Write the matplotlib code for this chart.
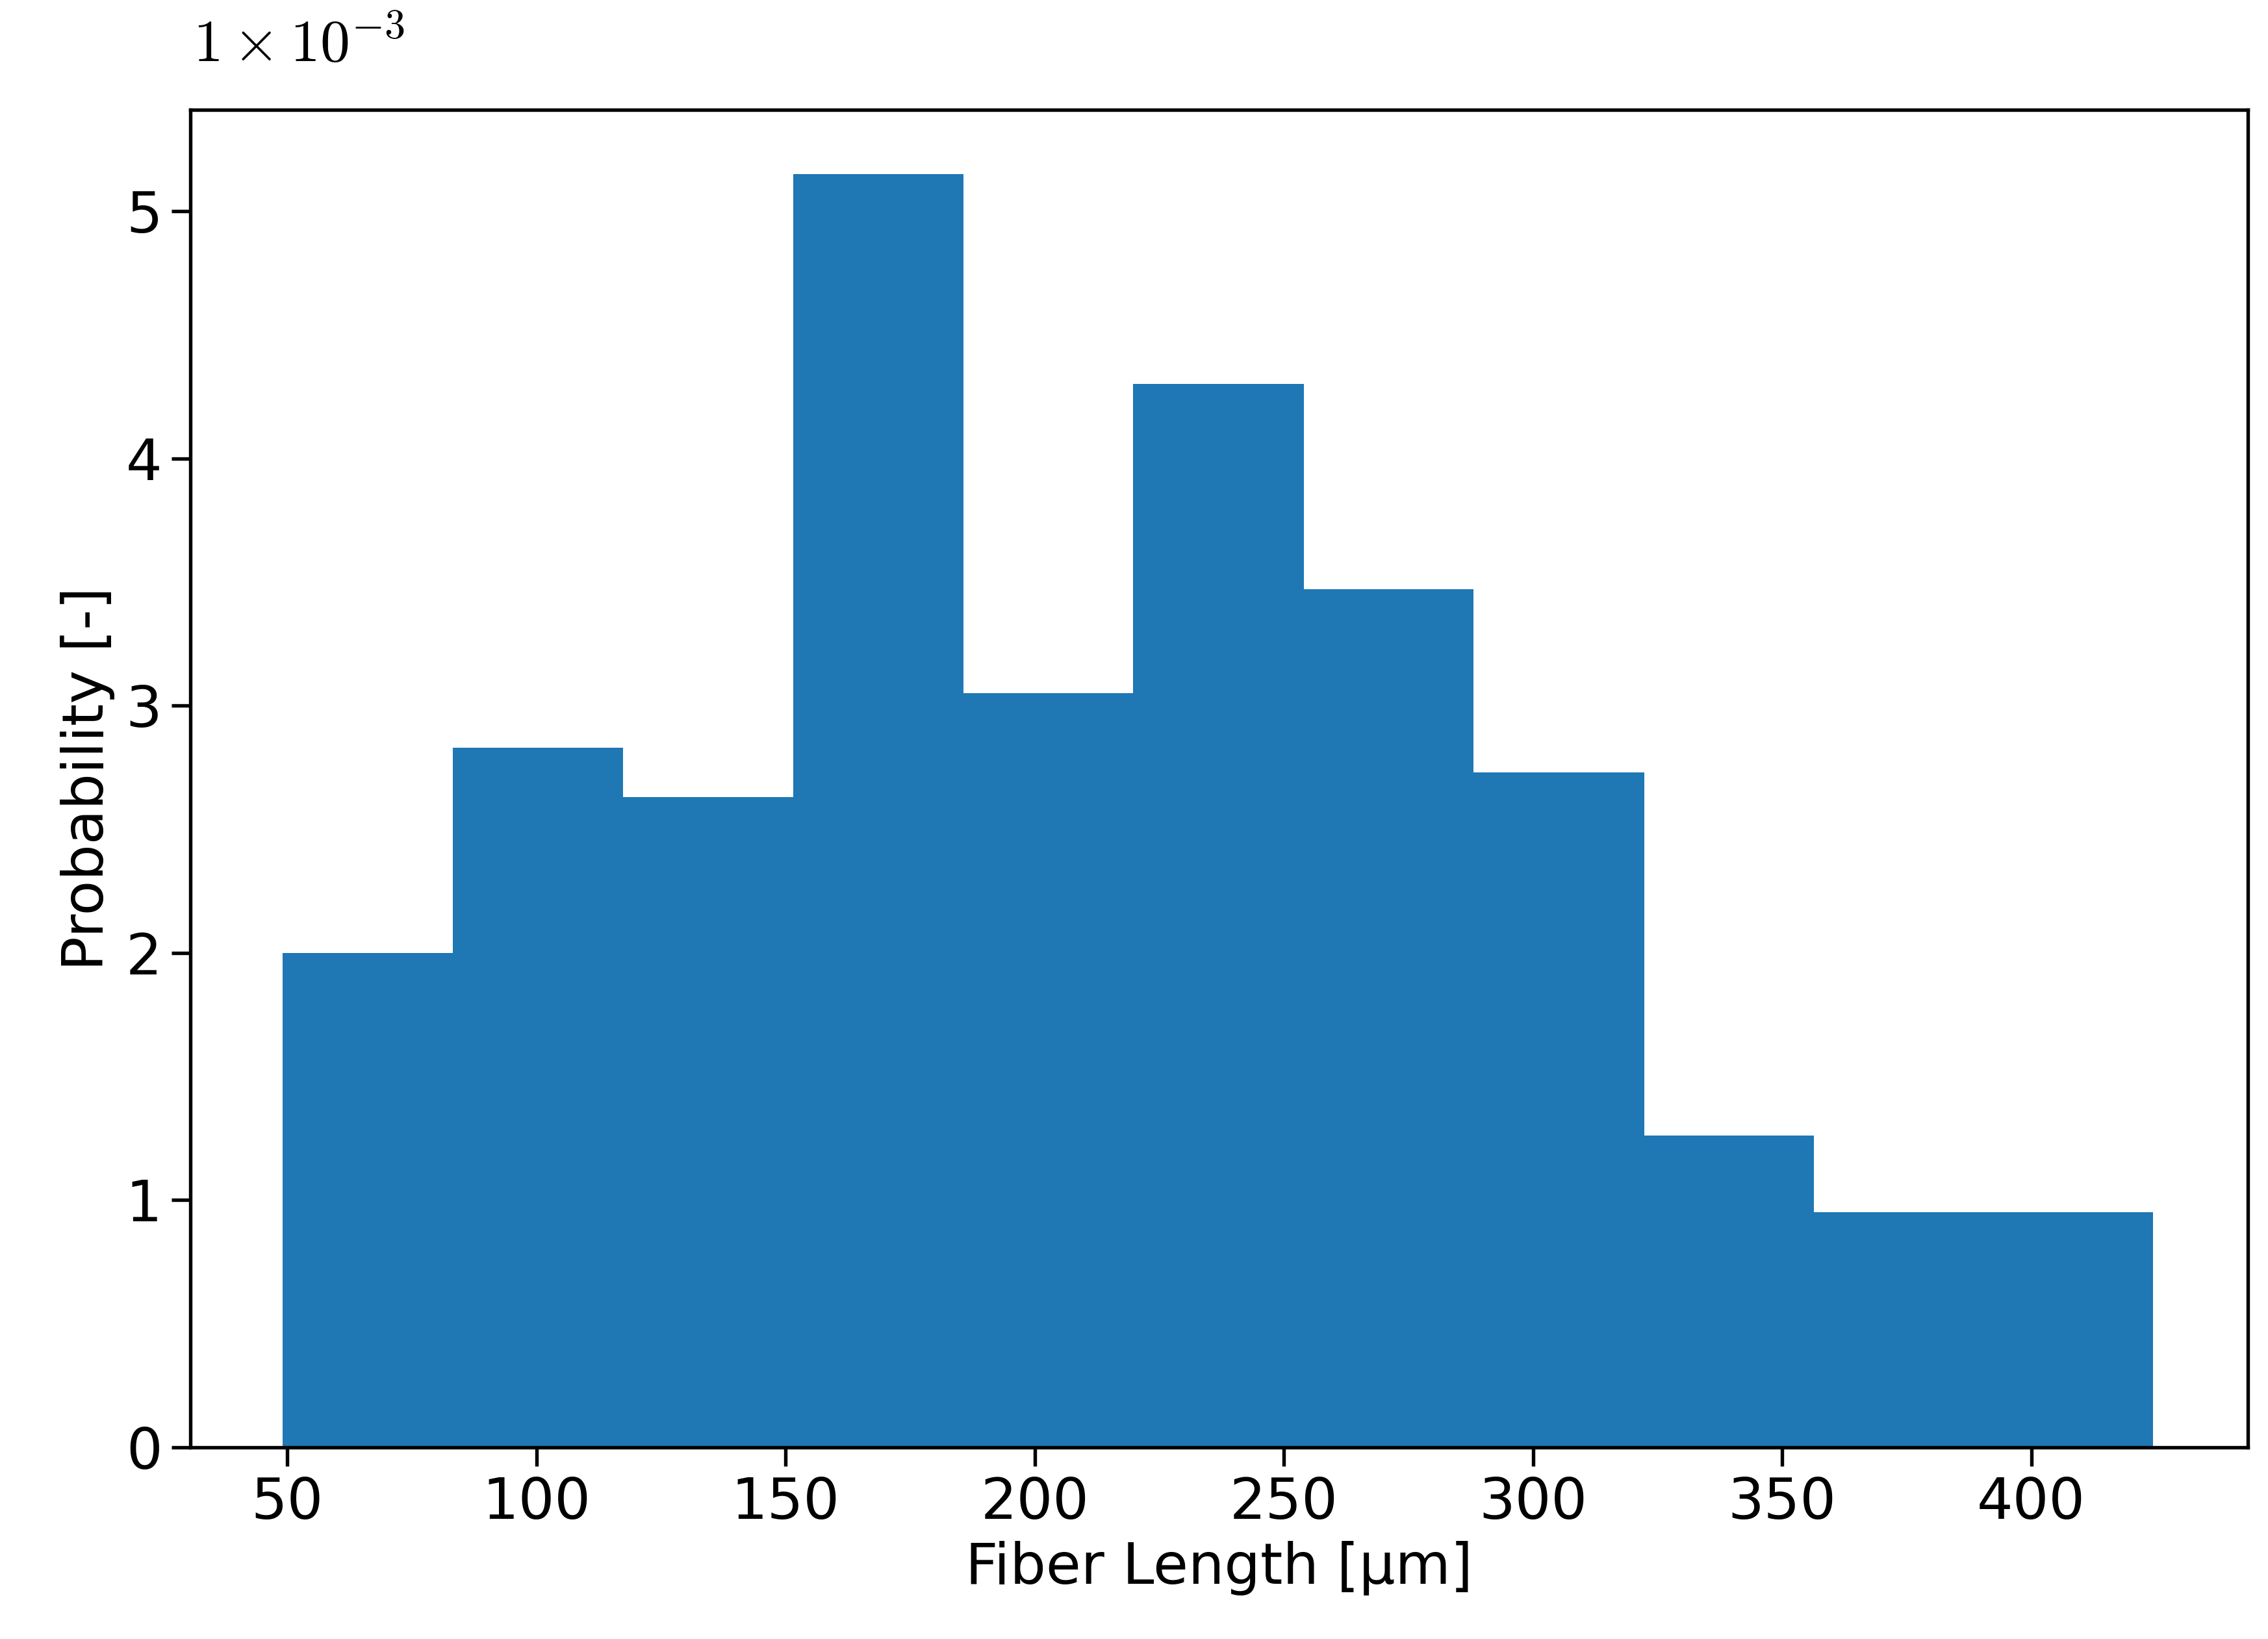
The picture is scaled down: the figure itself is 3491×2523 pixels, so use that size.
import numpy as np
import matplotlib.pyplot as plt

# histogram bin edges (um) and density values (x 1e-3)
bin_edges = [49.1, 83.2, 117.4, 151.5, 185.7, 219.8, 254.0, 288.1, 322.3, 356.4, 390.5, 424.4]
density = [2.0, 2.83, 2.63, 5.15, 3.05, 4.3, 3.47, 2.73, 1.26, 0.95, 0.95]

fig = plt.figure(figsize=(3491 / 300, 2523 / 300), dpi=300)
ax = fig.add_axes([0.084, 0.117, 0.907, 0.816])

edges = np.array(bin_edges)
ax.bar(edges[:-1], density, width=np.diff(edges), align='edge', color='#1f77b4')

ax.set_xlim(30.6, 443.4)
ax.set_ylim(0, 5.41)
ax.set_xticks([50, 100, 150, 200, 250, 300, 350, 400])
ax.set_yticks([0, 1, 2, 3, 4, 5])
ax.tick_params(labelsize=21, width=1.3, length=7)
for s in ax.spines.values():
    s.set_linewidth(1.3)

ax.set_xlabel('Fiber Length [µm]', fontsize=21)
ax.set_ylabel('Probability [-]', fontsize=21)

fig.text(0.085, 0.955, r'$1\times10^{-3}$', fontsize=22, family='serif',
         math_fontfamily='cm', ha='left', va='bottom')

plt.savefig('out.png', dpi=300)
